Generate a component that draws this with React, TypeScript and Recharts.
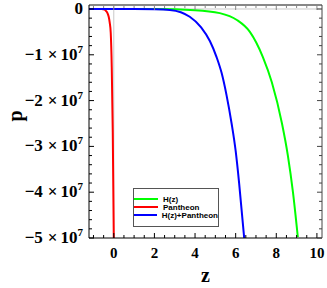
import { LineChart, Line, XAxis, YAxis, ReferenceLine } from 'recharts'

// H(z) curve
const hzZ = [-1.22, 2.0, 4.0, 5.22, 6.06, 6.7, 7.34, 7.78, 8.28, 8.57, 8.82, 9.06]
const hzP = [0, -2e4, -2.5e5, -9e5, -2.4e6, -5.0e6, -1.05e7, -1.6e7, -2.5e7, -3.2e7, -4.0e7, -4.98e7]

// Pantheon curve
const panZ = [-1.22, -0.6, -0.45, -0.39, -0.3, -0.25, -0.2, -0.15, -0.1, -0.05, 0.0]
const panP = [0, -2e4, -1.5e5, -4e5, -1.0e6, -1.7e6, -3.0e6, -5.2e6, -1.27e7, -2.7e7, -5.0e7]

// H(z)+Pantheon curve
const bothZ = [-1.22, 1.0, 2.0, 2.76, 3.3, 3.74, 4.3, 4.73, 5.06, 5.31, 5.55, 5.8, 6.0, 6.17, 6.42]
const bothP = [0, -5e3, -5e4, -2e5, -7e5, -1.7e6, -4.0e6, -7.0e6, -1.05e7, -1.4e7, -1.88e7, -2.5e7, -3.1e7, -3.8e7, -5.0e7]

const xMajor = [0, 2, 4, 6, 8, 10]
const xTicks = [-1, -0.5, 0, 0.5, 1, 1.5, 2, 2.5, 3, 3.5, 4, 4.5, 5, 5.5, 6, 6.5, 7, 7.5, 8, 8.5, 9, 9.5, 10]
const yMajor = [0, -1e7, -2e7, -3e7, -4e7, -5e7]
const yTicks = [0, -2e6, -4e6, -6e6, -8e6, -1e7, -1.2e7, -1.4e7, -1.6e7, -1.8e7, -2e7, -2.2e7, -2.4e7, -2.6e7, -2.8e7, -3e7,
  -3.2e7, -3.4e7, -3.6e7, -3.8e7, -4e7, -4.2e7, -4.4e7, -4.6e7, -4.8e7, -5e7]

const series = [
  { name: 'H(z)', color: '#00ff00', z: hzZ, p: hzP },
  { name: 'Pantheon', color: '#ff0000', z: panZ, p: panP },
  { name: 'H(z)+Pantheon', color: '#0000ff', z: bothZ, p: bothP },
]

const toRows = (z: number[], p: number[]) => z.map((v, i) => ({ z: v, p: p[i] }))

const serif = '"Liberation Serif", "DejaVu Serif", serif'

const BottomTick = (props: any) => {
  const { x, y, payload } = props
  const major = xMajor.includes(payload.value)
  return (
    <g>
      <path d={`M${x},${y}V${y - (major ? 5 : 3)}`} stroke="#000" strokeWidth={1} fill="none" />
      {major && (
        <text x={x} y={y + 20} textAnchor="middle" fontFamily={serif} fontWeight="bold" fontSize={15} fill="#000">
          {payload.value}
        </text>
      )}
    </g>
  )
}

const TopTick = (props: any) => {
  const { x, y, payload } = props
  const major = xMajor.includes(payload.value)
  return <path d={`M${x},${y}V${y + (major ? 5 : 3)}`} stroke="#888" strokeWidth={1} fill="none" />
}

const LeftTick = (props: any) => {
  const { x, y, payload } = props
  const major = yMajor.includes(payload.value)
  const n = Math.round(payload.value / 1e7)
  return (
    <g>
      <path d={`M${x},${y}H${x + (major ? 5 : 3)}`} stroke="#000" strokeWidth={1} fill="none" />
      {major && (
        <text x={x - 6} y={y + 5} textAnchor="end" fontFamily={serif} fontWeight="bold" fontSize={17} fill="#000">
          {n === 0 ? '0' : (
            <>
              <tspan>{'\u2212' + Math.abs(n)}</tspan>
              <tspan dx={5}>×</tspan>
              <tspan dx={3}>10</tspan>
              <tspan dy={-7} fontSize={11}>7</tspan>
            </>
          )}
        </text>
      )}
    </g>
  )
}

const RightTick = (props: any) => {
  const { x, y, payload } = props
  const major = yMajor.includes(payload.value)
  return <path d={`M${x},${y}H${x - (major ? 5 : 3)}`} stroke="#444" strokeWidth={1} fill="none" />
}

export default function App() {
  return (
    <div style={{ position: 'absolute', left: 0, top: 0, width: 327, height: 288, background: '#fff' }}>
      <LineChart width={327} height={288} margin={{ top: 4, right: 4, left: 0, bottom: 0 }}>
        <XAxis
          dataKey="z"
          type="number"
          domain={[-1.22, 10.25]}
          allowDataOverflow
          ticks={xTicks}
          interval={0}
          tickSize={0}
          tickMargin={0}
          tick={<BottomTick />}
          axisLine={{ stroke: '#000', strokeWidth: 1 }}
          height={50}
          label={{ value: 'z', position: 'insideBottom', offset: 6, fontFamily: serif, fontWeight: 'bold', fontSize: 20, fill: '#000' }}
        />
        <XAxis
          xAxisId="top"
          orientation="top"
          dataKey="z"
          type="number"
          domain={[-1.22, 10.25]}
          allowDataOverflow
          ticks={xTicks}
          interval={0}
          tickSize={0}
          tickMargin={0}
          tick={<TopTick />}
          axisLine={{ stroke: '#888', strokeWidth: 2 }}
          height={1}
        />
        <YAxis
          type="number"
          domain={[-5e7, 870000]}
          allowDataOverflow
          ticks={yTicks}
          interval={0}
          tickSize={0}
          tickMargin={0}
          tick={<LeftTick />}
          axisLine={{ stroke: '#000', strokeWidth: 1 }}
          width={89}
          label={{ value: 'p', angle: -90, position: 'insideLeft', offset: 15, fontFamily: serif, fontWeight: 'bold', fontSize: 20, fill: '#000' }}
        />
        <YAxis
          yAxisId="right"
          orientation="right"
          type="number"
          domain={[-5e7, 870000]}
          allowDataOverflow
          ticks={yTicks}
          interval={0}
          tickSize={0}
          tickMargin={0}
          tick={<RightTick />}
          axisLine={{ stroke: '#444', strokeWidth: 1 }}
          width={1}
        />
        <ReferenceLine x={0} stroke="#c8c8c8" strokeWidth={1} />
        <ReferenceLine y={0} stroke="#c8c8c8" strokeWidth={1} />
        {/* invisible copy so the top/right frame axes are in use */}
        <Line
          xAxisId="top"
          yAxisId="right"
          data={toRows(hzZ, hzP)}
          dataKey="p"
          stroke="none"
          dot={false}
          legendType="none"
          isAnimationActive={false}
        />
        {series.map(s => (
          <Line
            key={s.name}
            data={toRows(s.z, s.p)}
            dataKey="p"
            name={s.name}
            type="monotone"
            stroke={s.color}
            strokeWidth={2}
            dot={false}
            isAnimationActive={false}
          />
        ))}
      </LineChart>
      <div style={{ position: 'absolute', left: 133, top: 188, width: 86, height: 39, border: '1px solid #555', boxSizing: 'border-box', background: '#fff', paddingTop: 6 }}>
        {series.map(s => (
          <div key={s.name} style={{ display: 'flex', alignItems: 'center', height: 8 }}>
            <div style={{ width: 24, height: 2, background: s.color }} />
            <span style={{ marginLeft: 5, fontFamily: '"Liberation Sans", Arial, sans-serif', fontWeight: 'bold', fontSize: 8, color: '#000', whiteSpace: 'nowrap' }}>
              {s.name}
            </span>
          </div>
        ))}
      </div>
    </div>
  )
}
